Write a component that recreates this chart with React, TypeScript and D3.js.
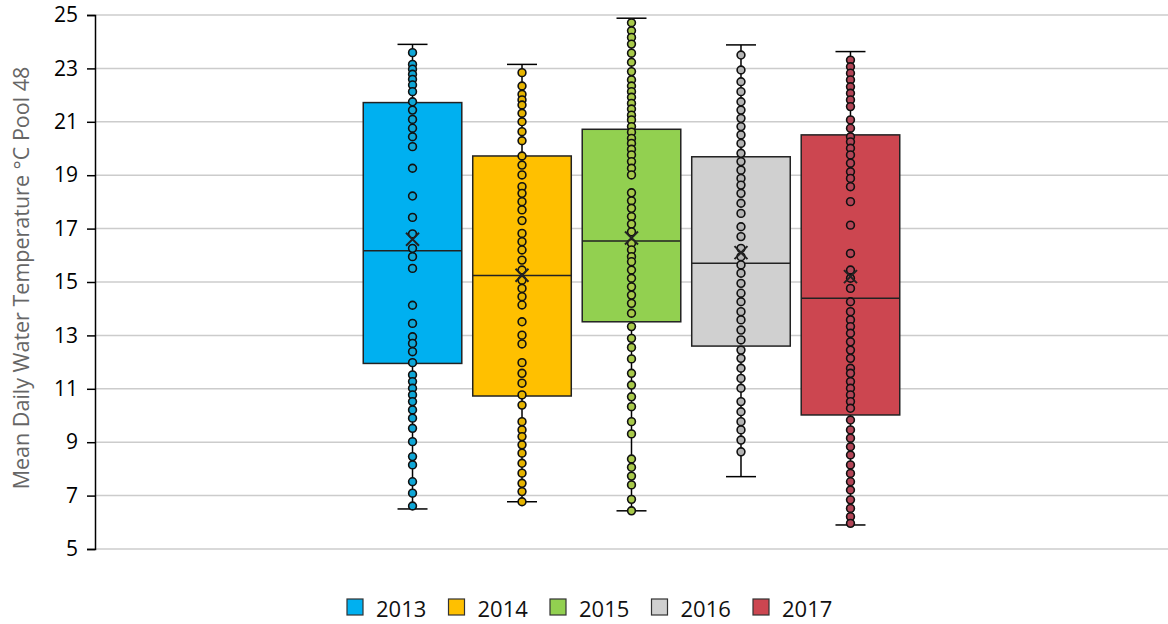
import React, { useRef, useEffect } from "react";
import * as d3 from "d3";

// years (series) and colours
const years = ["2013", "2014", "2015", "2016", "2017"];
const boxColors = ["#00b0f0", "#ffc000", "#92d050", "#d0d0d0", "#cc4650"];
const dotColors = ["#0fa6d6", "#e6b400", "#a8c94a", "#b4b4b4", "#b24557"];

// box-and-whisker summary
const whiskerLow = [6.5, 6.77, 6.43, 7.71, 5.9];
const q1 = [11.95, 10.73, 13.51, 12.6, 10.02];
const median = [16.17, 15.24, 16.54, 15.7, 14.39];
const q3 = [21.72, 19.72, 20.72, 19.69, 20.51];
const whiskerHigh = [23.9, 23.15, 24.88, 23.88, 23.63];
const means = [16.6, 15.25, 16.65, 16.1, 15.2];

// inner points
const points2013 = [23.59, 23.15, 22.97, 22.78, 22.59, 22.38, 22.13, 21.75, 21.44, 21.09, 20.76, 20.44, 20.07,
  19.26, 18.22, 17.42, 16.8, 16.26, 15.95, 15.51, 14.13, 13.45, 12.95, 12.7, 12.39, 11.98, 11.52, 11.27, 11.02,
  10.77, 10.52, 10.21, 9.9, 9.52, 9.02, 8.46, 8.15, 7.52, 7.09, 6.61];
const points2014 = [22.84, 22.34, 22.03, 21.82, 21.63, 21.32, 21.0, 20.63, 20.29, 19.72, 19.38, 19.01, 18.57,
  18.32, 18.01, 17.7, 17.3, 16.82, 16.51, 16.2, 15.82, 15.45, 15.07, 14.76, 14.45, 14.14, 13.51, 13.01, 12.68,
  11.98, 11.58, 11.21, 10.77, 10.39, 9.77, 9.46, 9.21, 8.9, 8.59, 8.21, 7.84, 7.46, 7.15, 6.77];
const points2015 = [24.71, 24.41, 24.16, 23.91, 23.57, 23.23, 22.88, 22.57, 22.34, 22.13, 21.92, 21.69, 21.48,
  21.25, 21.07, 20.82, 20.61, 20.38, 20.19, 19.97, 19.76, 19.51, 19.26, 19.01, 18.34, 18.04, 17.76, 17.45, 17.17,
  16.88, 16.45, 16.2, 15.95, 15.76, 15.45, 15.14, 14.82, 14.51, 14.2, 13.83, 13.33, 12.89, 12.55, 12.12, 11.58,
  11.14, 10.7, 10.33, 9.77, 9.31, 8.37, 8.06, 7.73, 7.4, 6.86, 6.43];
const points2016 = [23.5, 22.94, 22.5, 22.13, 21.75, 21.44, 21.13, 20.82, 20.51, 20.19, 19.82, 19.51, 19.19,
  18.88, 18.63, 18.32, 17.95, 17.57, 17.07, 16.7, 16.26, 15.95, 15.64, 15.33, 14.95, 14.58, 14.26, 13.89, 13.58,
  13.2, 12.83, 12.45, 12.14, 11.77, 11.39, 11.02, 10.52, 10.14, 9.77, 9.46, 9.08, 8.64];
const points2017 = [23.31, 23.06, 22.82, 22.57, 22.31, 22.07, 21.82, 21.57, 21.07, 20.76, 20.44, 20.25, 20.01,
  19.76, 19.45, 19.13, 18.88, 18.57, 18.01, 17.13, 16.07, 15.45, 15.14, 14.76, 14.26, 13.89, 13.58, 13.33, 13.08,
  12.76, 12.45, 12.14, 11.77, 11.58, 11.27, 11.02, 10.77, 10.52, 10.27, 9.83, 9.46, 9.15, 8.83, 8.52, 8.15, 7.83,
  7.52, 7.21, 6.84, 6.52, 6.21, 5.96];
const allPoints = [points2013, points2014, points2015, points2016, points2017];

const yTicks = [5, 7, 9, 11, 13, 15, 17, 19, 21, 23, 25];
const yTitle = "Mean Daily Water Temperature °C Pool 48";

const W = 1168;
const H = 624;
const font = "'Open Sans', 'Liberation Sans', sans-serif";

function BoxChart() {
  const svgRef = useRef<SVGSVGElement>(null);

  useEffect(() => {
    const svg = d3.select(svgRef.current);
    svg.selectAll("*").remove();

    const left = 95, right = W, top = 15, bottom = 549;
    const plotW = right - left;

    const y = d3.scaleLinear().domain([5, 25]).range([bottom, top]);
    const x = d3.scaleBand()
      .domain(years)
      .range([left + plotW * 0.25, right - plotW * 0.25])
      .paddingInner(0.1)
      .paddingOuter(0);

    // gridlines
    svg.append("g")
      .selectAll("line")
      .data(yTicks)
      .join("line")
      .attr("x1", left)
      .attr("x2", right)
      .attr("y1", (d) => y(d))
      .attr("y2", (d) => y(d))
      .attr("stroke", "#cccccc")
      .attr("stroke-width", 1.5);

    // y axis
    const yAxis = d3.axisLeft(y).tickValues(yTicks).tickSize(8).tickPadding(9).tickFormat(d3.format("d"));
    const ga = svg.append("g").attr("transform", `translate(${left},0)`).call(yAxis);
    ga.select(".domain").attr("stroke", "#000").attr("stroke-width", 1.5);
    ga.selectAll(".tick line").attr("stroke", "#000").attr("stroke-width", 1.5);
    ga.selectAll(".tick text")
      .attr("fill", "#000")
      .style("font-family", font)
      .style("font-size", "21px");

    svg.append("text")
      .attr("transform", `translate(20,${(top + bottom) / 2 - 4}) rotate(-90)`)
      .attr("text-anchor", "middle")
      .attr("dominant-baseline", "central")
      .attr("fill", "#666")
      .style("font-family", font)
      .style("font-size", "21.5px")
      .text(yTitle);

    // boxes
    years.forEach((yr, i) => {
      const bx = x(yr) as number;
      const bw = x.bandwidth();
      const cx = bx + bw / 2;
      const g = svg.append("g");
      const capW = 30;

      // whiskers
      g.append("line").attr("x1", cx).attr("x2", cx)
        .attr("y1", y(whiskerHigh[i])).attr("y2", y(q3[i]))
        .attr("stroke", "#000").attr("stroke-width", 1.5);
      g.append("line").attr("x1", cx).attr("x2", cx)
        .attr("y1", y(q1[i])).attr("y2", y(whiskerLow[i]))
        .attr("stroke", "#000").attr("stroke-width", 1.5);
      [whiskerHigh[i], whiskerLow[i]].forEach((v) => {
        g.append("line").attr("x1", cx - capW / 2).attr("x2", cx + capW / 2)
          .attr("y1", y(v)).attr("y2", y(v))
          .attr("stroke", "#000").attr("stroke-width", 1.5);
      });

      g.append("rect")
        .attr("x", bx).attr("width", bw)
        .attr("y", y(q3[i])).attr("height", y(q1[i]) - y(q3[i]))
        .attr("fill", boxColors[i])
        .attr("stroke", "#222").attr("stroke-width", 1.5);

      g.append("line").attr("x1", bx).attr("x2", bx + bw)
        .attr("y1", y(median[i])).attr("y2", y(median[i]))
        .attr("stroke", "#222").attr("stroke-width", 1.5);

      g.selectAll("circle")
        .data(allPoints[i])
        .join("circle")
        .attr("cx", cx)
        .attr("cy", (d) => y(d))
        .attr("r", 3.9)
        .attr("fill", dotColors[i])
        .attr("stroke", "#111")
        .attr("stroke-width", 1.6);

      // mean marker
      const my = y(means[i]);
      const s = 6.5;
      g.append("path")
        .attr("d", `M${cx - s},${my - s}L${cx + s},${my + s}M${cx - s},${my + s}L${cx + s},${my - s}`)
        .attr("stroke", "#222").attr("stroke-width", 2);
    });

    // legend
    const legendStep = 101.5;
    const legendX = 347;
    const lg = svg.append("g").attr("transform", `translate(${legendX},599)`);
    const items = lg.selectAll("g").data(years).join("g")
      .attr("transform", (_d, i) => `translate(${i * legendStep},0)`);
    items.append("rect")
      .attr("width", 16).attr("height", 16)
      .attr("fill", (_d, i) => boxColors[i])
      .attr("stroke", "#333").attr("stroke-width", 1.2);
    items.append("text")
      .attr("x", 29).attr("y", 9)
      .attr("dominant-baseline", "central")
      .attr("fill", "#111")
      .style("font-family", font)
      .style("font-size", "22px")
      .text((d) => d);
  }, []);

  return <svg ref={svgRef} width={W} height={H} style={{ display: "block", background: "#fff" }} />;
}

export default function App() {
  return (
    <div style={{ position: "absolute", left: 0, top: 0 }}>
      <BoxChart />
    </div>
  );
}
